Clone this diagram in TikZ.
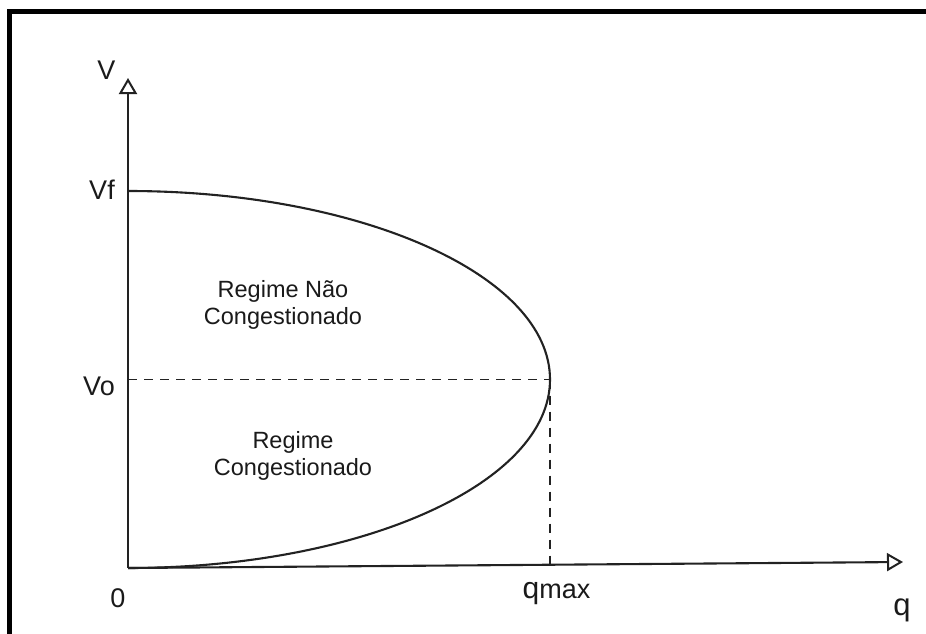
\documentclass[tikz,border=0pt]{standalone}
\usepackage{fontspec}
\setmainfont{Liberation Sans}
\usetikzlibrary{arrows.meta}
\definecolor{ink}{HTML}{222222}
\definecolor{txt}{HTML}{1A1A1A}
\begin{document}
\begin{tikzpicture}[x=1pt,y=-1pt,
  frame/.style={line width=5pt,draw=black,line join=miter},
  axisline/.style={line width=2.1pt,draw=ink,-{Triangle[open,length=16pt,width=18pt,line width=2pt]}},
  curve/.style={line width=2.1pt,draw=ink},
  guide/.style={line width=1.9pt,draw=ink,dash pattern=on 9pt off 7pt},
  axlabel/.style={text=txt,anchor=base,inner sep=0pt,font=\fontsize{27}{27}\selectfont},
  region/.style={text=txt,anchor=base,inner sep=0pt,align=center,font=\fontsize{23.5}{27}\selectfont}]
\useasboundingbox (0,0) rectangle (926,634);
\fill[white] (0,0) rectangle (926,634);
% frame (top and left edges only)
\coordinate (fbl) at (9.8,634);
\coordinate (ftl) at (9.8,11.2);
\coordinate (ftr) at (930,11.2);
\draw[frame] (fbl) -- (ftl) -- (ftr);
% key points
\coordinate (O) at (128,568);
\coordinate (vtop) at (128,78);
\coordinate (qend) at (903,562);
\coordinate (Vf) at (128,191);
\coordinate (Vo) at (128,379.5);
\coordinate (nose) at (550,379.5);
\coordinate (qm) at (550,564.6);
% guides
\draw[guide] (Vo) -- (nose);
\draw[guide] (nose) -- (qm);
% curve: right half of an ellipse
\draw[curve] (Vf) arc[start angle=-90,end angle=90,x radius=422,y radius=188.5];
% axes
\draw[axisline] (O) -- (vtop);
\draw[axisline] (O) -- (qend);
% labels
\node[axlabel] (lV) at (106.5,79) {V};
\node[axlabel] (lVf) at (102,199) {Vf};
\node[axlabel] (lVo) at (99,395) {Vo};
\node[axlabel] (l0) at (118,607) {0};
\node[axlabel,font=\fontsize{31}{31}\selectfont] (lq) at (902,615) {q};
\node[axlabel] (lqmax) at (556.5,598) {{\fontsize{30}{30}\selectfont q}{\fontsize{27}{27}\selectfont max}};
\node[region] (rnc) at (283,324) {Regime Não\\Congestionado};
\node[region] (rc) at (293,475) {Regime\\Congestionado};
\end{tikzpicture}
\end{document}
